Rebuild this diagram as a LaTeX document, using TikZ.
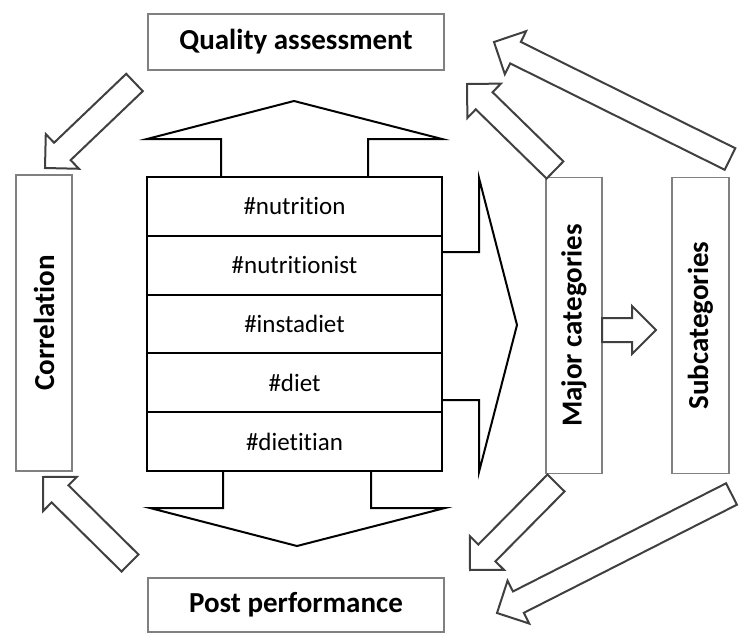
\documentclass[tikz,border=0pt]{standalone}
\usepackage{fontspec}
\setmainfont{Carlito}[Ligatures=NoCommon]
\usepackage{graphicx}
\usetikzlibrary{calc}
\usetikzlibrary{positioning}
\definecolor{boxgray}{RGB}{128,128,128}
\definecolor{arrowgray}{RGB}{64,64,64}

% hollow block arrow from tail centre #1 to tip #2
\newcommand{\fatarrow}[2]{%
  \coordinate (fa-n) at ($#2!24pt!#1$);
  \draw[fatarrow] ($#1!12pt!90:#2$) -- ($(fa-n)!12pt!90:#2$) -- ($(fa-n)!24pt!90:#2$) -- #2
    -- ($(fa-n)!24pt!-90:#2$) -- ($(fa-n)!12pt!-90:#2$) -- ($#1!12pt!-90:#2$) -- cycle;
}

\tikzset{
  hbox/.style={draw=boxgray, line width=1.5pt, minimum width=296pt, minimum height=56pt,
    inner sep=0pt, font=\fontsize{29}{33}\selectfont\bfseries},
  vbox/.style={draw=boxgray, line width=1.5pt, minimum width=56pt, minimum height=296pt,
    inner sep=0pt, font=\fontsize{29}{33}\selectfont\bfseries},
  tagbox/.style={draw=black, line width=2pt, minimum width=295pt, minimum height=58.8pt,
    inner sep=0pt, outer sep=0pt, font=\fontsize{25}{29}\selectfont},
  fatarrow/.style={draw=arrowgray, line width=2pt, line join=miter, fill=white},
  bigarrow/.style={draw=black, line width=2pt, line join=miter},
}

\begin{document}
\begin{tikzpicture}[x=1pt, y=-1pt]
\useasboundingbox (0,0) rectangle (750,642);

% outer boxes
\node[hbox] (quality) at (296,42) {Quality assessment};
\node[hbox, minimum height=54pt] (post) at (296,605) {Post performance};
\node[vbox] (corr) at (44,323) {\rotatebox{90}{Correlation}};
\node[vbox] (major) at (574,325.5) {\rotatebox{90}{Major categories}};
\node[vbox, minimum width=57pt] (sub) at (700.5,325.5) {\rotatebox{90}{Subcategories}};

% hashtag stack
\node[tagbox] (t1) at (294.5,206.4) {\#nutrition};
\node[tagbox, below=0pt of t1] (t2) {\#nutritionist};
\node[tagbox, below=0pt of t2] (t3) {\#instadiet};
\node[tagbox, below=0pt of t3] (t4) {\#diet};
\node[tagbox, below=0pt of t4] (t5) {\#dietitian};

% big arrows around the stack
\draw[bigarrow] (221,177) -- (221,139) -- (147,139) -- (294,101) -- (442,139) -- (368,139) -- (368,177);
\draw[bigarrow] (223,471) -- (223,508) -- (150,508) -- (297,546) -- (445,508) -- (371,508) -- (371,471);
\draw[bigarrow] (442,252) -- (479,252) -- (479,178) -- (517,325) -- (479,472) -- (479,400) -- (442,400);

% block arrow ends
\coordinate (qc-tail) at (134.5,82.5);
\coordinate (qc-tip) at (45,168);
\coordinate (pc-tail) at (130,563);
\coordinate (pc-tip) at (43,477);
\coordinate (mq-tail) at (555,170);
\coordinate (mq-tip) at (467,84);
\coordinate (sq-tail) at (730,159);
\coordinate (sq-tip) at (494,42);
\coordinate (mp-tail) at (556,483);
\coordinate (mp-tip) at (470,570);
\coordinate (sp-tail) at (731.5,494);
\coordinate (sp-tip) at (497,613);
\coordinate (ms-tail) at (602,330);
\coordinate (ms-tip) at (656,330);

\fatarrow{(qc-tail)}{(qc-tip)}
\fatarrow{(pc-tail)}{(pc-tip)}
\fatarrow{(mq-tail)}{(mq-tip)}
\fatarrow{(sq-tail)}{(sq-tip)}
\fatarrow{(mp-tail)}{(mp-tip)}
\fatarrow{(sp-tail)}{(sp-tip)}
\fatarrow{(ms-tail)}{(ms-tip)}
\end{tikzpicture}
\end{document}
